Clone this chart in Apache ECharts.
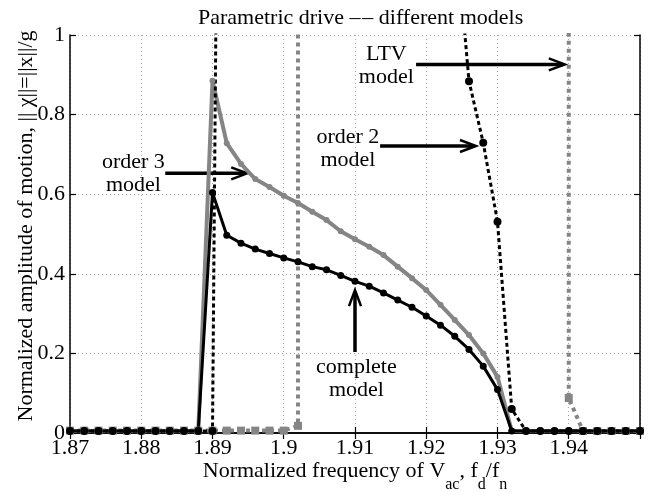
<!DOCTYPE html>
<html>
<head>
<meta charset="utf-8">
<script src="https://cdn.jsdelivr.net/npm/echarts@6/dist/echarts.min.js"></script>
<style>
  html, body { margin: 0; padding: 0; background: #fff; }
  #chart { width: 663px; height: 492px; }
</style>
</head>
<body>
<div id="chart"></div>
<script>
// frequency grid shared by the two solid curves
const freqGrid = [1.870, 1.872, 1.874, 1.876, 1.878, 1.880, 1.882, 1.884, 1.886, 1.888,
  1.890, 1.892, 1.894, 1.896, 1.898, 1.900, 1.902, 1.904, 1.906, 1.908, 1.910,
  1.912, 1.914, 1.916, 1.918, 1.920, 1.922, 1.924, 1.926, 1.928, 1.930,
  1.932, 1.934, 1.936, 1.938, 1.940, 1.942, 1.944, 1.946, 1.948, 1.950];

const completeAmp = [0.005, 0.005, 0.005, 0.005, 0.005, 0.005, 0.005, 0.005, 0.005, 0.005,
  0.604, 0.497, 0.477, 0.462, 0.451, 0.440, 0.430, 0.418, 0.410, 0.396, 0.381,
  0.369, 0.352, 0.334, 0.316, 0.294, 0.271, 0.243, 0.210, 0.168, 0.109,
  0.005, 0.005, 0.005, 0.005, 0.005, 0.005, 0.005, 0.005, 0.005, 0.005];

const order3Amp = [0.005, 0.005, 0.005, 0.005, 0.005, 0.005, 0.005, 0.005, 0.005, 0.005,
  0.885, 0.728, 0.676, 0.638, 0.618, 0.596, 0.578, 0.556, 0.535, 0.507, 0.487,
  0.468, 0.447, 0.418, 0.389, 0.359, 0.322, 0.284, 0.246, 0.200, 0.141,
  0.005, 0.005, 0.005, 0.005, 0.005, 0.005, 0.005, 0.005, 0.005, 0.005];

// order 2 model: low branch, jump off the top, high branch coming back down
const order2Freq = [1.870, 1.872, 1.874, 1.876, 1.878, 1.880, 1.882, 1.884, 1.886, 1.888, 1.890,
  1.8906, 1.924, 1.926, 1.928, 1.930, 1.932, 1.934,
  1.936, 1.938, 1.940, 1.942, 1.944, 1.946, 1.948, 1.950];
const order2Amp = [0.005, 0.005, 0.005, 0.005, 0.005, 0.005, 0.005, 0.005, 0.005, 0.005, 0.005,
  1.3, 1.29, 0.884, 0.729, 0.531, 0.06, 0.005,
  0.005, 0.005, 0.005, 0.005, 0.005, 0.005, 0.005, 0.005];

// LTV model
const ltvFreq = [1.870, 1.872, 1.874, 1.876, 1.878, 1.880, 1.882, 1.884, 1.886, 1.888,
  1.890, 1.892, 1.894, 1.896, 1.898, 1.900, 1.902,
  1.902, 1.940, 1.940, 1.942, 1.944, 1.946, 1.948, 1.950];
const ltvAmp = [0.006, 0.006, 0.006, 0.006, 0.006, 0.006, 0.006, 0.006, 0.006, 0.006,
  0.006, 0.006, 0.006, 0.006, 0.006, 0.006, 0.018,
  3, 3, 0.088, 0.005, 0.005, 0.005, 0.005, 0.005];

// annotations, in data coordinates
const noteText = ['LTV\nmodel', 'order 2\nmodel', 'order 3\nmodel', 'complete\nmodel'];
const noteAt = [[1.9144, 0.923], [1.9090, 0.715], [1.8789, 0.651], [1.9102, 0.1357]];
const arrowFrom = [[1.91857, 0.926], [1.91352, 0.721], [1.88337, 0.6525], [1.910, 0.2035]];
const arrowTo = [[1.93945, 0.926], [1.92698, 0.721], [1.89487, 0.6525], [1.910, 0.359]];

const FONT = '"Liberation Serif", "Times New Roman", serif';
const GREY = '#858585';

const pairs = (xs, ys) => xs.map((x, i) => [x, ys[i]]);

const chart = echarts.init(document.getElementById('chart'));

const axisLine = { show: true, lineStyle: { color: '#000', width: 1.5 } };
const tick = { show: true, inside: true, length: 6, lineStyle: { color: '#000', width: 1.2 } };
const grid = { show: true, lineStyle: { type: [1, 3], color: '#a8a8a8', width: 1 } };

chart.setOption({
  animation: false,
  title: {
    text: 'Parametric drive \u2013\u200a\u2013 different models',
    left: 193, top: 2,
    textStyle: { fontFamily: FONT, fontSize: 22, fontWeight: 'normal', color: '#000' }
  },
  grid: { left: 70, right: 23, top: 35, bottom: 59, containLabel: false, outerBoundsMode: 'none' },
  xAxis: [{
    type: 'value', min: 1.87, max: 1.95, interval: 0.01, position: 'bottom',
    axisLine, axisTick: tick, splitLine: grid,
    axisLabel: {
      margin: 4, fontFamily: FONT, fontSize: 22, color: '#000',
      formatter: v => v > 1.945 ? '' : String(+v.toFixed(2))
    },
    name: '{a|Normalized frequency of V}{s|ac}{a|, f}{s|d}{a|/f}{s|n}',
    nameLocation: 'middle', nameGap: 27, nameMoveOverlap: false,
    nameTextStyle: {
      rich: {
        a: { fontFamily: FONT, fontSize: 22, lineHeight: 22, color: '#000' },
        s: { fontFamily: FONT, fontSize: 16, lineHeight: 16, color: '#000', padding: [28, 0, 0, 0] }
      }
    }
  }, {
    type: 'value', min: 1.87, max: 1.95, interval: 0.01, position: 'top',
    axisLine, axisTick: tick, splitLine: { show: false }, axisLabel: { show: false }
  }],
  yAxis: [{
    type: 'value', min: 0, max: 1, interval: 0.2, position: 'left',
    axisLine, axisTick: tick, splitLine: grid,
    axisLabel: {
      margin: 5, fontFamily: FONT, fontSize: 22, color: '#000',
      formatter: v => String(+v.toFixed(1))
    },
    name: 'Normalized amplitude of motion, || \u03c7||=||x||/g',
    nameLocation: 'middle', nameGap: 33, nameMoveOverlap: false,
    nameTextStyle: { fontFamily: FONT, fontSize: 22, color: '#000', padding: [0, 0, 0, 16] }
  }, {
    type: 'value', min: 0, max: 1, interval: 0.2, position: 'right',
    axisLine, axisTick: tick, splitLine: { show: false }, axisLabel: { show: false }
  }],
  series: [{
    name: 'LTV model', type: 'line', data: pairs(ltvFreq, ltvAmp),
    symbol: 'rect', symbolSize: 8, clip: true,
    itemStyle: { color: GREY },
    lineStyle: { color: GREY, width: 4, type: [4, 4] }
  }, {
    name: 'order 3 model', type: 'line', data: pairs(freqGrid, order3Amp),
    symbol: 'circle', symbolSize: 6, clip: true,
    itemStyle: { color: GREY },
    lineStyle: { color: GREY, width: 4 }
  }, {
    name: 'order 2 model', type: 'line', data: pairs(order2Freq, order2Amp),
    symbol: 'circle', symbolSize: 8, clip: true,
    itemStyle: { color: '#000' },
    lineStyle: { color: '#000', width: 3, type: [4, 3] }
  }, {
    name: 'complete model', type: 'line', data: pairs(freqGrid, completeAmp),
    symbol: 'circle', symbolSize: 7, clip: true,
    itemStyle: { color: '#000' },
    lineStyle: { color: '#000', width: 3 }
  }]
});

// labels and arrows placed through the axes
const toPx = p => chart.convertToPixel({ xAxisIndex: 0, yAxisIndex: 0 }, p);

function arrow(from, to) {
  const a = toPx(from), b = toPx(to);
  const dx = b[0] - a[0], dy = b[1] - a[1];
  const len = Math.sqrt(dx * dx + dy * dy);
  const ux = dx / len, uy = dy / len;
  const hl = 16, hw = 6;
  return {
    type: 'group',
    children: [{
      type: 'line',
      shape: { x1: a[0], y1: a[1], x2: b[0] - ux * 2, y2: b[1] - uy * 2 },
      style: { stroke: '#000', lineWidth: 3.5 }
    }, {
      type: 'polyline',
      shape: { points: [
        [b[0] - ux * hl - uy * hw, b[1] - uy * hl + ux * hw],
        [b[0], b[1]],
        [b[0] - ux * hl + uy * hw, b[1] - uy * hl - ux * hw]
      ] },
      style: { stroke: '#000', lineWidth: 2.5, fill: null }
    }]
  };
}

const graphics = [];
noteText.forEach((t, i) => {
  const p = toPx(noteAt[i]);
  graphics.push({
    type: 'text', x: p[0], y: p[1], z: 10,
    style: {
      text: t, fontFamily: FONT, fontSize: 22, lineHeight: 23,
      align: 'center', verticalAlign: 'middle', fill: '#000'
    }
  });
  graphics.push(arrow(arrowFrom[i], arrowTo[i]));
});
chart.setOption({ graphic: graphics });
</script>
</body>
</html>
